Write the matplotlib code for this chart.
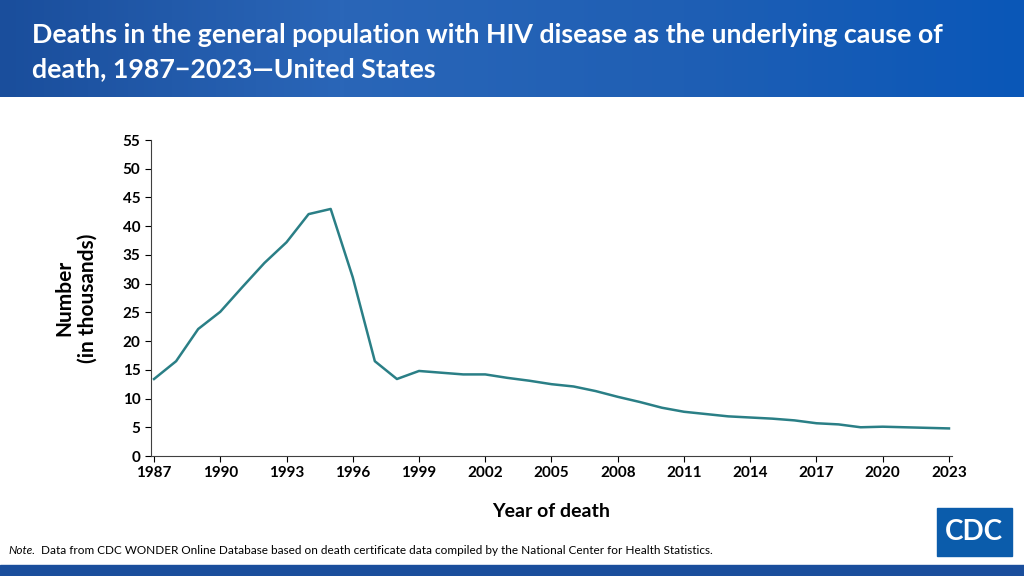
import matplotlib
matplotlib.use("Agg")
import matplotlib.pyplot as plt
import numpy as np
from matplotlib.patches import Rectangle
from matplotlib.colors import LinearSegmentedColormap

years = list(range(1987, 2024))
deaths = [13.4, 16.5, 22.1, 25.1, 29.4, 33.6, 37.2, 42.1, 43.0, 31.1, 16.5, 13.4,
          14.8, 14.5, 14.2, 14.2, 13.6, 13.1, 12.5, 12.1, 11.3, 10.3, 9.4, 8.4,
          7.7, 7.3, 6.9, 6.7, 6.5, 6.2, 5.7, 5.5, 5.0, 5.1, 5.0, 4.9, 4.8]
xticks = list(range(1987, 2024, 3))
yticks = list(range(0, 56, 5))

plt.rcParams['font.family'] = ['Lato', 'DejaVu Sans']
W, H = 1024, 576
fig = plt.figure(figsize=(W/100, H/100), dpi=100)

bg = fig.add_axes([0, 1-97/H, 1, 97/H])
grad = np.linspace(0, 1, 256).reshape(1, -1)
cm = LinearSegmentedColormap.from_list('h', ['#1a4e9c', '#2a66b8', '#1f5fb4', '#0a57b8'])
bg.imshow(grad, aspect='auto', cmap=cm, extent=[0, 1, 0, 1])
bg.axis('off')
fig.text(32/W, 1-35/H, "Deaths in the general population with HIV disease as the underlying cause of",
         color='white', fontsize=19.3, fontweight='bold', va='center')
fig.text(32/W, 1-69/H, "death, 1987\u22122023\u2014United States",
         color='white', fontsize=19.3, fontweight='bold', va='center')

fig.patches.append(Rectangle((0, 0), 1, 11/H, transform=fig.transFigure, color='#1a4e9c'))

ax = fig.add_axes([154/W - 0.003, 1-456/H, (949-154)/W + 0.006, (456-140)/H])
ax.plot(years, deaths, color='#2a7f86', lw=1.8)
ax.set_xlim(1987-0.14, 2023+0.14)
ax.set_ylim(0, 55)
ax.set_xticks(xticks)
ax.set_yticks(yticks)
for s in ['top', 'right']:
    ax.spines[s].set_visible(False)
for s in ['left', 'bottom']:
    ax.spines[s].set_color('#404040')
ax.tick_params(labelsize=11, colors='black', length=4)
for lbl in ax.get_xticklabels() + ax.get_yticklabels():
    lbl.set_fontweight('bold')
ax.set_xlabel("Year of death", fontsize=14, fontweight='bold', labelpad=16)
ax.set_ylabel("Number\n(in thousands)", fontsize=15, fontweight='bold', labelpad=18)

fig.text(8/W, 1-550/H, "Note.", fontsize=8.5, va='center', style='italic')
fig.text(41/W, 1-550/H, "Data from CDC WONDER Online Database based on death certificate data compiled by the National Center for Health Statistics.",
         fontsize=8.5, va='center')

fig.patches.append(Rectangle((937/W, 1-556/H), 75/W, 48/H, transform=fig.transFigure, color='#0b5cab'))
fig.text(974/W, 1-532/H, "CDC", color='white', fontsize=20, fontweight='bold', ha='center', va='center')

fig.savefig("out.png", dpi=100)
